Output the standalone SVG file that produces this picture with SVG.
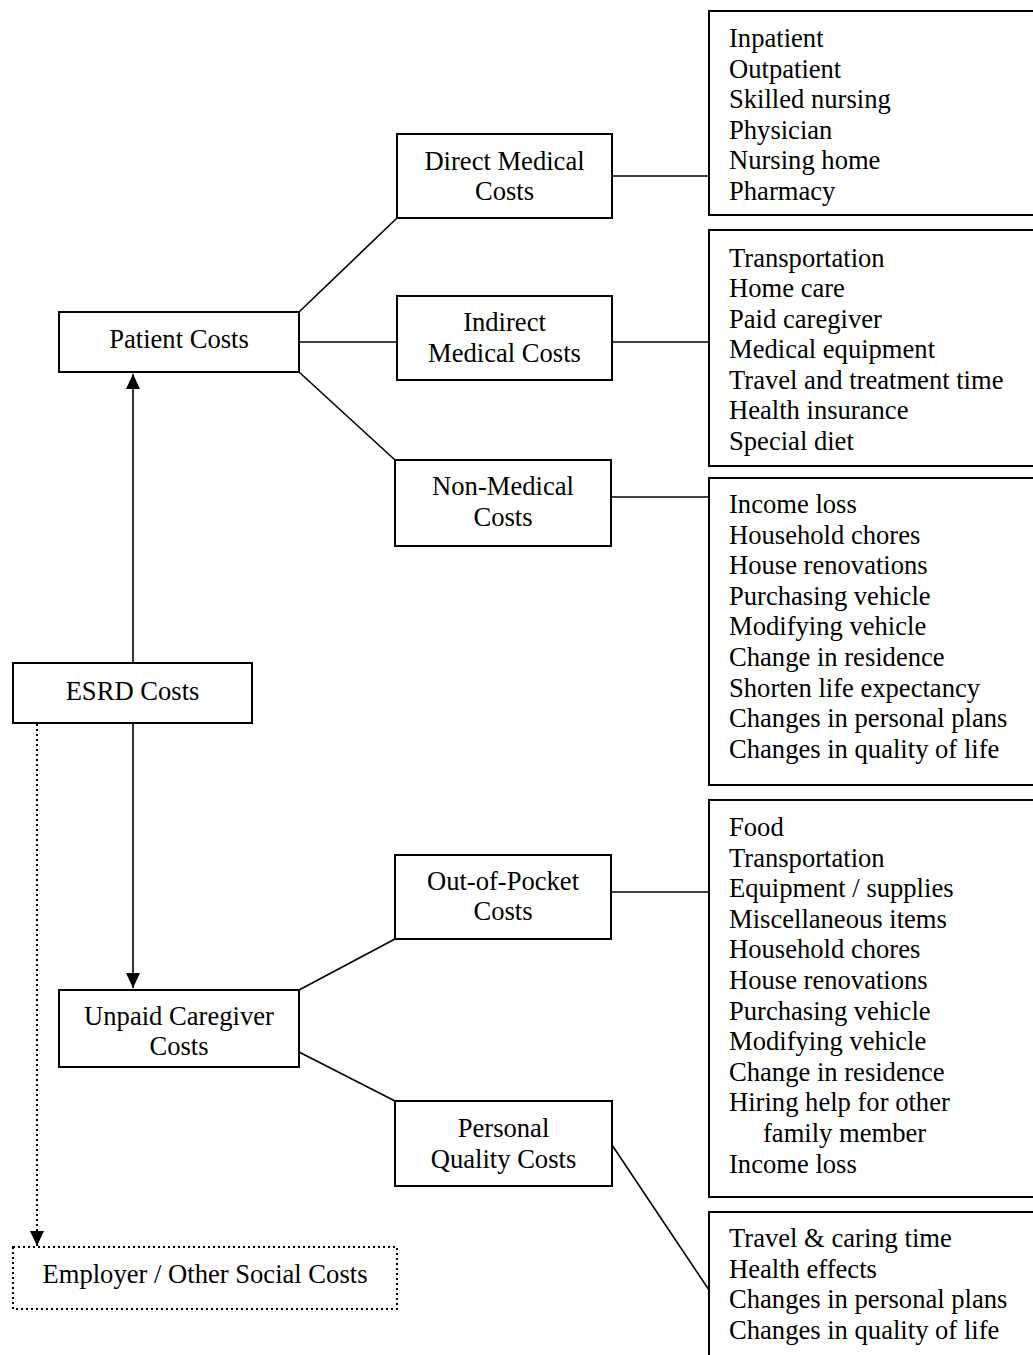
<svg xmlns="http://www.w3.org/2000/svg" width="1033" height="1355" viewBox="0 0 1033 1355">
<style>
.box{fill:#fff;stroke:#000;stroke-width:2}
.dbox{fill:#fff;stroke:#000;stroke-width:2;stroke-dasharray:2,3}
.t{font-family:"Liberation Serif","Times New Roman",serif;font-size:26.6px;fill:#000}
.c{text-anchor:middle}
.ln{stroke:#000;stroke-width:1.6;fill:none}
.dl{stroke:#000;stroke-width:2;fill:none;stroke-dasharray:2,3}
</style>
<defs>
<marker id="ah" markerUnits="userSpaceOnUse" markerWidth="16" markerHeight="16" refX="15" refY="7" orient="auto">
<path d="M0,0 L15,7 L0,14 Z" fill="#000"/>
</marker>
</defs>
<rect width="1033" height="1355" fill="#fff"/>
<g id="connectors">
<line class="ln" x1="133" y1="663" x2="133" y2="374" marker-end="url(#ah)"/>
<line class="ln" x1="133" y1="723" x2="133" y2="988" marker-end="url(#ah)"/>
<line class="dl" x1="37" y1="724" x2="37" y2="1246" marker-end="url(#ah)"/>
<line class="ln" x1="299" y1="312" x2="397" y2="218"/>
<line class="ln" x1="299" y1="342" x2="397" y2="342"/>
<line class="ln" x1="299" y1="372" x2="395" y2="460"/>
<line class="ln" x1="612" y1="176" x2="709" y2="176"/>
<line class="ln" x1="612" y1="342" x2="709" y2="342"/>
<line class="ln" x1="611" y1="497" x2="709" y2="497"/>
<line class="ln" x1="299" y1="990" x2="395" y2="939"/>
<line class="ln" x1="299" y1="1052" x2="395" y2="1101"/>
<line class="ln" x1="611" y1="892" x2="709" y2="892"/>
<line class="ln" x1="612" y1="1145" x2="709" y2="1290"/>
</g>
<g id="esrd">
<rect class="box" x="13" y="663" width="239" height="60"/>
<text class="t c" x="132.5" y="700">ESRD Costs</text>
</g>
<g id="patient">
<rect class="box" x="59" y="312" width="240" height="60"/>
<text class="t c" x="179" y="348">Patient Costs</text>
</g>
<g id="unpaid">
<rect class="box" x="59" y="990" width="240" height="77"/>
<text class="t c" x="179" y="1025">Unpaid Caregiver</text>
<text class="t c" x="179" y="1055">Costs</text>
</g>
<g id="employer">
<rect class="dbox" x="13" y="1247" width="384" height="62"/>
<text class="t c" x="205" y="1283">Employer / Other Social Costs</text>
</g>
<g id="direct">
<rect class="box" x="397" y="134" width="215" height="84"/>
<text class="t c" x="504.5" y="170">Direct Medical</text>
<text class="t c" x="504.5" y="200">Costs</text>
</g>
<g id="indirect">
<rect class="box" x="397" y="296" width="215" height="84"/>
<text class="t c" x="504.5" y="331">Indirect</text>
<text class="t c" x="504.5" y="362">Medical Costs</text>
</g>
<g id="nonmedical">
<rect class="box" x="395" y="460" width="216" height="86"/>
<text class="t c" x="503" y="495">Non-Medical</text>
<text class="t c" x="503" y="526">Costs</text>
</g>
<g id="outofpocket">
<rect class="box" x="395" y="855" width="216" height="84"/>
<text class="t c" x="503" y="890">Out-of-Pocket</text>
<text class="t c" x="503" y="920">Costs</text>
</g>
<g id="personalquality">
<rect class="box" x="395" y="1101" width="217" height="85"/>
<text class="t c" x="503.5" y="1137">Personal</text>
<text class="t c" x="503.5" y="1168">Quality Costs</text>
</g>
<g id="list-direct">
<rect class="box" x="709" y="11" width="340" height="204"/>
<text class="t" x="729" y="47">Inpatient</text>
<text class="t" x="729" y="77.5">Outpatient</text>
<text class="t" x="729" y="108">Skilled nursing</text>
<text class="t" x="729" y="138.5">Physician</text>
<text class="t" x="729" y="169">Nursing home</text>
<text class="t" x="729" y="199.5">Pharmacy</text>
</g>
<g id="list-indirect">
<rect class="box" x="709" y="230" width="340" height="236"/>
<text class="t" x="729" y="267">Transportation</text>
<text class="t" x="729" y="297">Home care</text>
<text class="t" x="729" y="327.5">Paid caregiver</text>
<text class="t" x="729" y="358">Medical equipment</text>
<text class="t" x="729" y="388.5">Travel and treatment time</text>
<text class="t" x="729" y="419">Health insurance</text>
<text class="t" x="729" y="449.5">Special diet</text>
</g>
<g id="list-nonmedical">
<rect class="box" x="709" y="478" width="340" height="307"/>
<text class="t" x="729" y="513">Income loss</text>
<text class="t" x="729" y="543.6">Household chores</text>
<text class="t" x="729" y="574.2">House renovations</text>
<text class="t" x="729" y="604.8">Purchasing vehicle</text>
<text class="t" x="729" y="635.4">Modifying vehicle</text>
<text class="t" x="729" y="666">Change in residence</text>
<text class="t" x="729" y="696.6">Shorten life expectancy</text>
<text class="t" x="729" y="727.2">Changes in personal plans</text>
<text class="t" x="729" y="757.8">Changes in quality of life</text>
</g>
<g id="list-outofpocket">
<rect class="box" x="709" y="800" width="340" height="397"/>
<text class="t" x="729" y="836">Food</text>
<text class="t" x="729" y="866.6">Transportation</text>
<text class="t" x="729" y="897.2">Equipment / supplies</text>
<text class="t" x="729" y="927.8">Miscellaneous items</text>
<text class="t" x="729" y="958.4">Household chores</text>
<text class="t" x="729" y="989">House renovations</text>
<text class="t" x="729" y="1019.6">Purchasing vehicle</text>
<text class="t" x="729" y="1050.2">Modifying vehicle</text>
<text class="t" x="729" y="1080.8">Change in residence</text>
<text class="t" x="729" y="1111.4">Hiring help for other</text>
<text class="t" x="763" y="1142">family member</text>
<text class="t" x="729" y="1172.6">Income loss</text>
</g>
<g id="list-personalquality">
<rect class="box" x="709" y="1212" width="340" height="160"/>
<text class="t" x="729" y="1247">Travel &amp; caring time</text>
<text class="t" x="729" y="1277.6">Health effects</text>
<text class="t" x="729" y="1308.2">Changes in personal plans</text>
<text class="t" x="729" y="1338.8">Changes in quality of life</text>
</g>
</svg>
